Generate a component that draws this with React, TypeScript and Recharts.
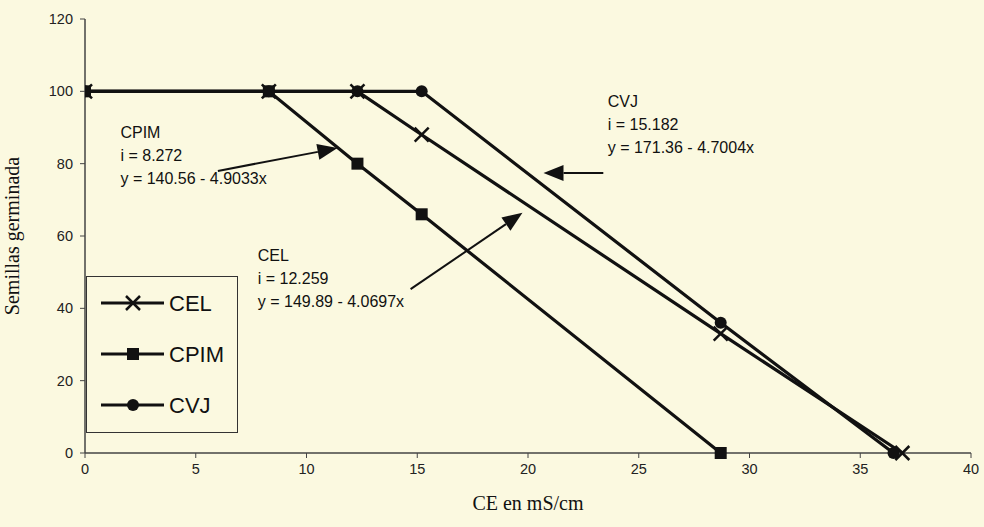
import { LineChart, Line, XAxis, YAxis, Legend, ReferenceLine, ReferenceDot } from 'recharts';

// CE (mS/cm) vs semillas germinadas
const celX = [0, 8.3, 12.3, 15.2, 28.7, 36.9];
const celY = [100, 100, 100, 88, 33, 0];
const cpimX = [0, 8.3, 12.3, 15.2, 28.7];
const cpimY = [100, 100, 80, 66, 0];
const cvjX = [0, 8.3, 12.3, 15.2, 28.7, 36.5];
const cvjY = [100, 100, 100, 100, 36, 0];

const xTicks = [0, 5, 10, 15, 20, 25, 30, 35, 40];
const yTicks = [0, 20, 40, 60, 80, 100, 120];

const seriesNames = ['CEL', 'CPIM', 'CVJ'];

// regression notes: anchor (x, y) + lines of text
const noteAnchors = [
    { x: 1.6, y: 87 },
    { x: 7.8, y: 53 },
    { x: 23.6, y: 95.8 },
];
const noteLines = [
    ['CPIM', 'i = 8.272', 'y = 140.56 - 4.9033x'],
    ['CEL', 'i = 12.259', 'y = 149.89 - 4.0697x'],
    ['CVJ', 'i = 15.182', 'y = 171.36 - 4.7004x'],
];

// arrows pointing to the curves: [x1, y1, x2, y2]
const arrows = [
    [6.0, 78.0, 11.4, 84.3],
    [14.7, 45.3, 19.75, 66.4],
    [23.4, 77.4, 20.7, 77.4],
];

const toPoints = (xs: number[], ys: number[]) => xs.map((x, i) => ({ x, y: ys[i] }));

const INK = '#111';

const CrossDot = (props: any) => {
    const { cx, cy } = props;
    if (cx == null || cy == null) return null;
    const s = 7;
    return (
        <g stroke={INK} strokeWidth={2.5}>
            <line x1={cx - s} y1={cy - s} x2={cx + s} y2={cy + s} />
            <line x1={cx - s} y1={cy + s} x2={cx + s} y2={cy - s} />
        </g>
    );
};

const SquareDot = (props: any) => {
    const { cx, cy } = props;
    if (cx == null || cy == null) return null;
    return <rect x={cx - 6} y={cy - 6} width={12} height={12} fill={INK} />;
};

const CircleDot = (props: any) => {
    const { cx, cy } = props;
    if (cx == null || cy == null) return null;
    return <circle cx={cx} cy={cy} r={6} fill={INK} />;
};

const dots = [CrossDot, SquareDot, CircleDot];

const Arrow = (props: any) => {
    const { x1, y1, x2, y2 } = props;
    const ang = Math.atan2(y2 - y1, x2 - x1);
    const len = 20;
    const w = 8;
    const bx = x2 - len * Math.cos(ang);
    const by = y2 - len * Math.sin(ang);
    const px = -Math.sin(ang) * w;
    const py = Math.cos(ang) * w;
    return (
        <g>
            <line x1={x1} y1={y1} x2={bx} y2={by} stroke={INK} strokeWidth={2} />
            <polygon points={`${x2},${y2} ${bx + px},${by + py} ${bx - px},${by - py}`} fill={INK} />
        </g>
    );
};

const Note = (lines: string[]) => (props: any) => {
    const { cx, cy } = props;
    return (
        <text x={cx} y={cy} fontFamily="Arial, 'Liberation Sans', sans-serif" fontSize={16} fill="#111">
            {lines.map((l, i) => (
                <tspan key={i} x={cx} dy={i === 0 ? 0 : 23}>{l}</tspan>
            ))}
        </text>
    );
};

const LegendBox = () => (
    <div style={{ width: 152, height: 157, border: '1px solid #333', boxSizing: 'border-box', background: '#fbf9e0' }}>
        <svg width={150} height={155}>
            {seriesNames.map((name, i) => {
                const cy = 26 + i * 51;
                const D = dots[i];
                return (
                    <g key={name}>
                        <line x1={14} y1={cy} x2={77} y2={cy} stroke={INK} strokeWidth={3} />
                        <D cx={46} cy={cy} />
                        <text x={82} y={cy + 8} fontFamily="Arial, 'Liberation Sans', sans-serif" fontSize={22} fill="#111">{name}</text>
                    </g>
                );
            })}
        </svg>
    </div>
);

const App = () => {
    const series = [toPoints(celX, celY), toPoints(cpimX, cpimY), toPoints(cvjX, cvjY)];
    const tickStyle = { fill: '#222', fontSize: 14.5, fontFamily: "Arial, 'Liberation Sans', sans-serif" };

    return (
        <div style={{ position: 'absolute', left: 0, top: 0, width: 984, height: 527, background: '#fbf9e0' }}>
            <LineChart width={984} height={527} margin={{ top: 19, right: 13, left: 0, bottom: 14 }}>
                <XAxis
                    type="number"
                    dataKey="x"
                    domain={[0, 40]}
                    ticks={xTicks}
                    allowDataOverflow
                    height={60}
                    tick={tickStyle}
                    tickSize={5}
                    tickMargin={6}
                    axisLine={{ stroke: '#444', strokeWidth: 1.5 }}
                    tickLine={{ stroke: '#444' }}
                    label={{
                        value: 'CE en mS/cm',
                        position: 'insideBottom',
                        offset: 3,
                        style: { fill: '#111', fontSize: 20, fontFamily: "'Liberation Serif', 'Times New Roman', serif" },
                    }}
                />
                <YAxis
                    type="number"
                    dataKey="y"
                    domain={[0, 120]}
                    ticks={yTicks}
                    width={85}
                    tick={tickStyle}
                    tickSize={5}
                    tickMargin={7}
                    axisLine={{ stroke: '#444', strokeWidth: 1.5 }}
                    tickLine={{ stroke: '#444' }}
                    label={{
                        value: 'Semillas germinada',
                        angle: -90,
                        position: 'insideLeft',
                        offset: 12,
                        style: { textAnchor: 'middle', fill: '#111', fontSize: 20, fontFamily: "'Liberation Serif', 'Times New Roman', serif" },
                    }}
                />
                <Legend
                    layout="vertical"
                    align="center"
                    verticalAlign="middle"
                    content={<LegendBox />}
                    wrapperStyle={{ left: 86, top: 276, width: 152, height: 157 }}
                />
                {seriesNames.map((name, i) => (
                    <Line
                        key={name}
                        name={name}
                        data={series[i]}
                        dataKey="y"
                        stroke={INK}
                        strokeWidth={3.2}
                        dot={dots[i]}
                        activeDot={false}
                        isAnimationActive={false}
                    />
                ))}
                {arrows.map((a, i) => (
                    <ReferenceLine
                        key={`arrow-${i}`}
                        segment={[{ x: a[0], y: a[1] }, { x: a[2], y: a[3] }]}
                        ifOverflow="visible"
                        shape={Arrow}
                    />
                ))}
                {noteAnchors.map((p, i) => (
                    <ReferenceDot key={`note-${i}`} x={p.x} y={p.y} r={0} ifOverflow="visible" shape={Note(noteLines[i])} />
                ))}
            </LineChart>
        </div>
    );
};

export default App;
